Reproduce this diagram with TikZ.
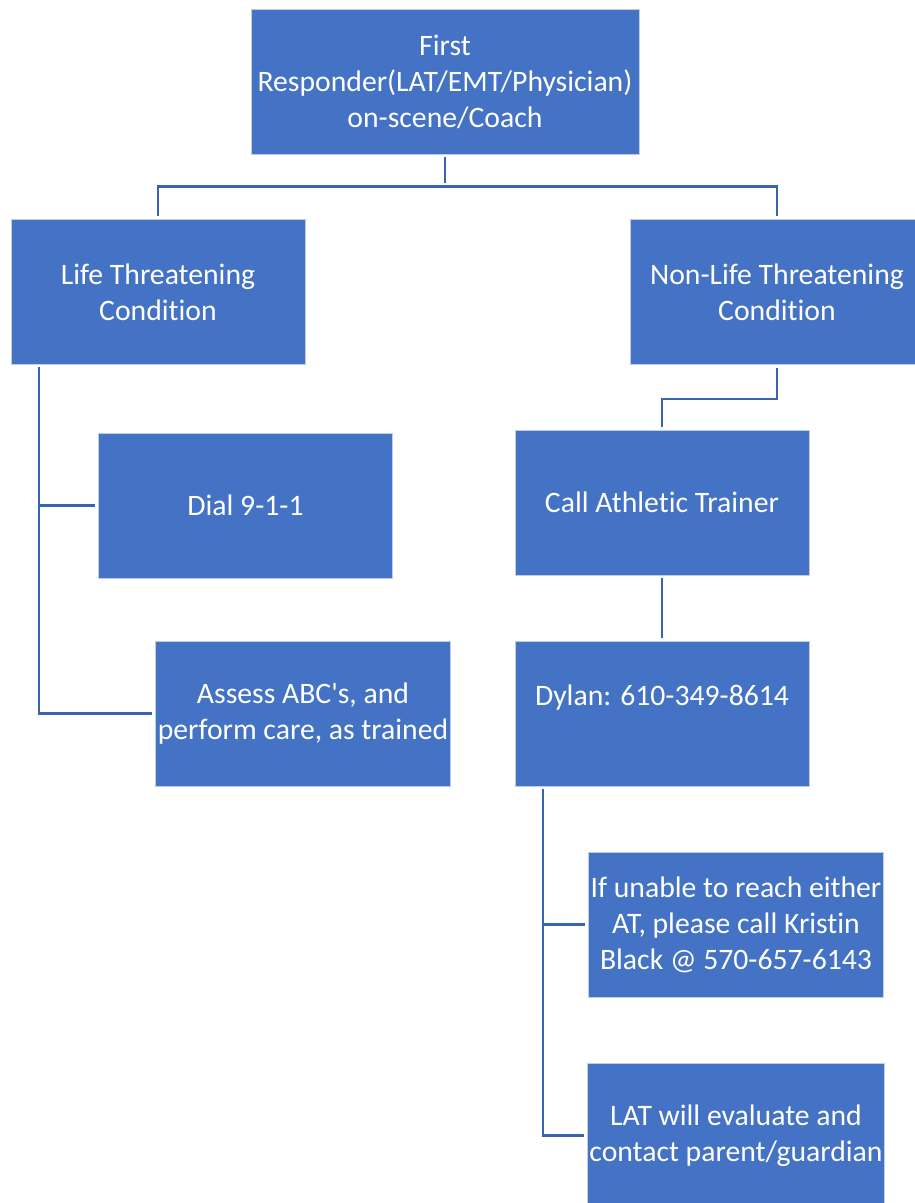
\documentclass[tikz,border=0pt]{standalone}
\usepackage{fontspec}
\setmainfont{Carlito}[Ligatures={NoCommon}]
\usetikzlibrary{calc}
\definecolor{boxblue}{RGB}{68,114,196}
\definecolor{linkblue}{RGB}{59,99,178}
\tikzset{
  box/.style={rectangle,fill=boxblue,draw=white!65!boxblue,line width=.8pt,
    minimum width=294pt,minimum height=145pt,inner sep=2pt,
    text=white,align=center,font=\fontsize{29.7}{36}\selectfont},
  link/.style={draw=linkblue,line width=2.6pt,shorten <=3pt,shorten >=3pt}
}

\begin{document}
\begin{tikzpicture}[x=1pt,y=1pt]
\useasboundingbox (0,0) rectangle (914,-1203);
% boxes
\node[box,minimum width=388pt] (first) at (445,-81.5) {First\\Responder(LAT/EMT/Physician)\\on-scene/Coach};
\node[box] (life) at (158,-292) {Life Threatening\\Condition};
\node[box] (nonlife) at (777,-292) {Non-Life Threatening\\Condition};
\node[box] (dial) at (245.5,-505.5) {Dial 9-1-1};
\node[box] (assess) at (303,-713.5) {Assess ABC\textquotesingle s, and\\perform care, as trained};
\node[box] (callat) at (662,-502.5) {Call Athletic Trainer};
\node[box] (dylan) at (662,-713.5) {Dylan: 610-349-8614\\\mbox{}};
\node[box] (unable) at (736,-924.5) {If unable to reach either\\AT, please call Kristin\\Black @ 570-657-6143};
\node[box] (latev) at (736,-1135.5) {LAT will evaluate and\\contact parent/guardian};
% connectors
\coordinate (split) at ($(first.south)+(0,-32)$);
\draw[link] (first.south) -- (split);
\draw[link] (life.north) |- (split) -| (nonlife.north);
\coordinate (lspine) at (39,-364);
\draw[link] (lspine) |- (dial.west);
\draw[link] (lspine) |- (assess.west);
\draw[link] (nonlife.south) -- ++(0,-34) -| (callat.north);
\draw[link] (callat) -- (dylan);
\coordinate (rspine) at (543,-786);
\draw[link] (rspine) |- (unable.west);
\draw[link] (rspine) |- (latev.west);
\end{tikzpicture}
\end{document}
